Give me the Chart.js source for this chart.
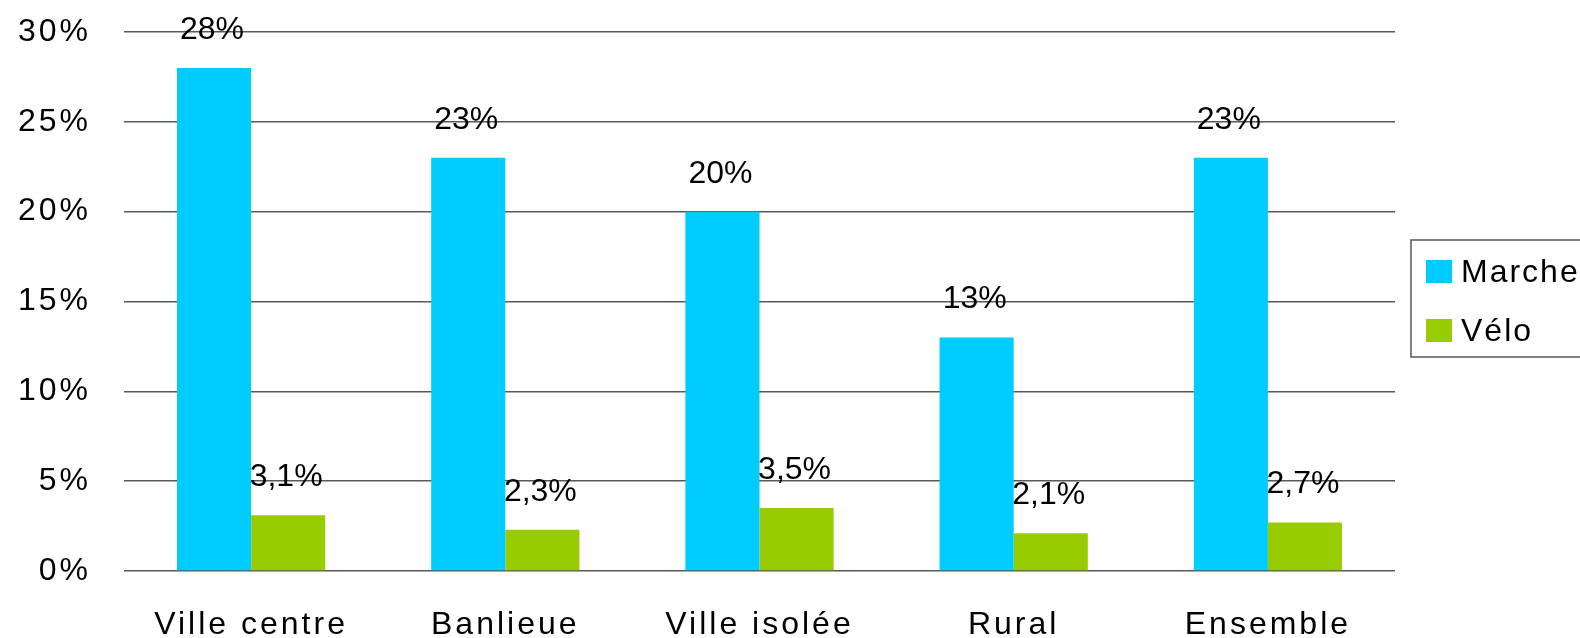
<!DOCTYPE html>
<html>
<head>
<meta charset="utf-8">
<script src="https://cdn.jsdelivr.net/npm/chart.js@4/dist/chart.umd.min.js"></script>
<style>
html,body{margin:0;padding:0;background:#fff;overflow:hidden;}
canvas{display:block;}
</style>
</head>
<body>
<canvas id="c" width="1580" height="638"></canvas>
<script>
const categories = ['Ville centre', 'Banlieue', 'Ville isolée', 'Rural', 'Ensemble'];
const marche = [28, 23, 20, 13, 23];
const velo = [3.1, 2.3, 3.5, 2.1, 2.7];
const seriesNames = ['Marche', 'Vélo'];
const yTicks = [0, 5, 10, 15, 20, 25, 30];

const FONT = '"Liberation Sans", Arial, sans-serif';

const spacingPlugin = {
  id: 'spacing',
  beforeDraw(chart) { chart.ctx.letterSpacing = '3px'; }
};

const labelPlugin = {
  id: 'barLabels',
  afterDatasetsDraw(chart) {
    const ctx = chart.ctx;
    ctx.save();
    ctx.letterSpacing = '0px';
    ctx.font = '32px ' + FONT;
    ctx.fillStyle = '#000';
    ctx.textAlign = 'center';
    ctx.textBaseline = 'alphabetic';
    chart.data.datasets.forEach((ds, di) => {
      const meta = chart.getDatasetMeta(di);
      meta.data.forEach((bar, i) => {
        const txt = String(ds.data[i]).replace('.', ',') + '%';
        ctx.fillText(txt, bar.x - 2, bar.y - 29);
      });
    });
    ctx.restore();
  }
};

const legendPlugin = {
  id: 'boxLegend',
  afterDraw(chart) {
    const ctx = chart.ctx;
    ctx.save();
    ctx.letterSpacing = '2px';
    ctx.strokeStyle = '#555';
    ctx.lineWidth = 1.5;
    ctx.strokeRect(1411, 240, 200, 117);
    ctx.font = '32px ' + FONT;
    ctx.textAlign = 'left';
    ctx.textBaseline = 'middle';
    chart.data.datasets.forEach((ds, i) => {
      const y = 260 + i * 59;
      ctx.fillStyle = ds.backgroundColor;
      ctx.fillRect(1426, y, 26, 23);
      ctx.fillStyle = '#000';
      ctx.fillText(ds.label, 1461, y + 13);
    });
    ctx.restore();
  }
};

new Chart(document.getElementById('c'), {
  type: 'bar',
  data: {
    labels: categories,
    datasets: [
      { label: seriesNames[0], data: marche, backgroundColor: '#00CCFF', barPercentage: 1, categoryPercentage: 0.583 },
      { label: seriesNames[1], data: velo, backgroundColor: '#99CC00', barPercentage: 1, categoryPercentage: 0.583 }
    ]
  },
  options: {
    responsive: false,
    animation: false,
    devicePixelRatio: 1,
    layout: { padding: { left: 0, top: 32, right: 185, bottom: 0 } },
    plugins: { legend: { display: false }, tooltip: { enabled: false } },
    scales: {
      x: {
        grid: { display: false, drawTicks: false },
        border: { display: false },
        ticks: { color: '#000', font: { family: FONT, size: 32 }, padding: 35 },
        afterFit(s) { s.height = 67; }
      },
      y: {
        min: 0, max: 30,
        afterBuildTicks(s) { s.ticks = yTicks.map(v => ({ value: v })); },
        grid: { color: '#595959', lineWidth: 1.5, drawTicks: false },
        border: { display: false },
        ticks: { color: '#000', font: { family: FONT, size: 32 }, padding: 33, callback: v => v + '%' },
        afterFit(s) { s.width = 124; s.paddingTop = 0; s.paddingBottom = 0; }
      }
    }
  },
  plugins: [spacingPlugin, labelPlugin, legendPlugin]
});
</script>
</body>
</html>
